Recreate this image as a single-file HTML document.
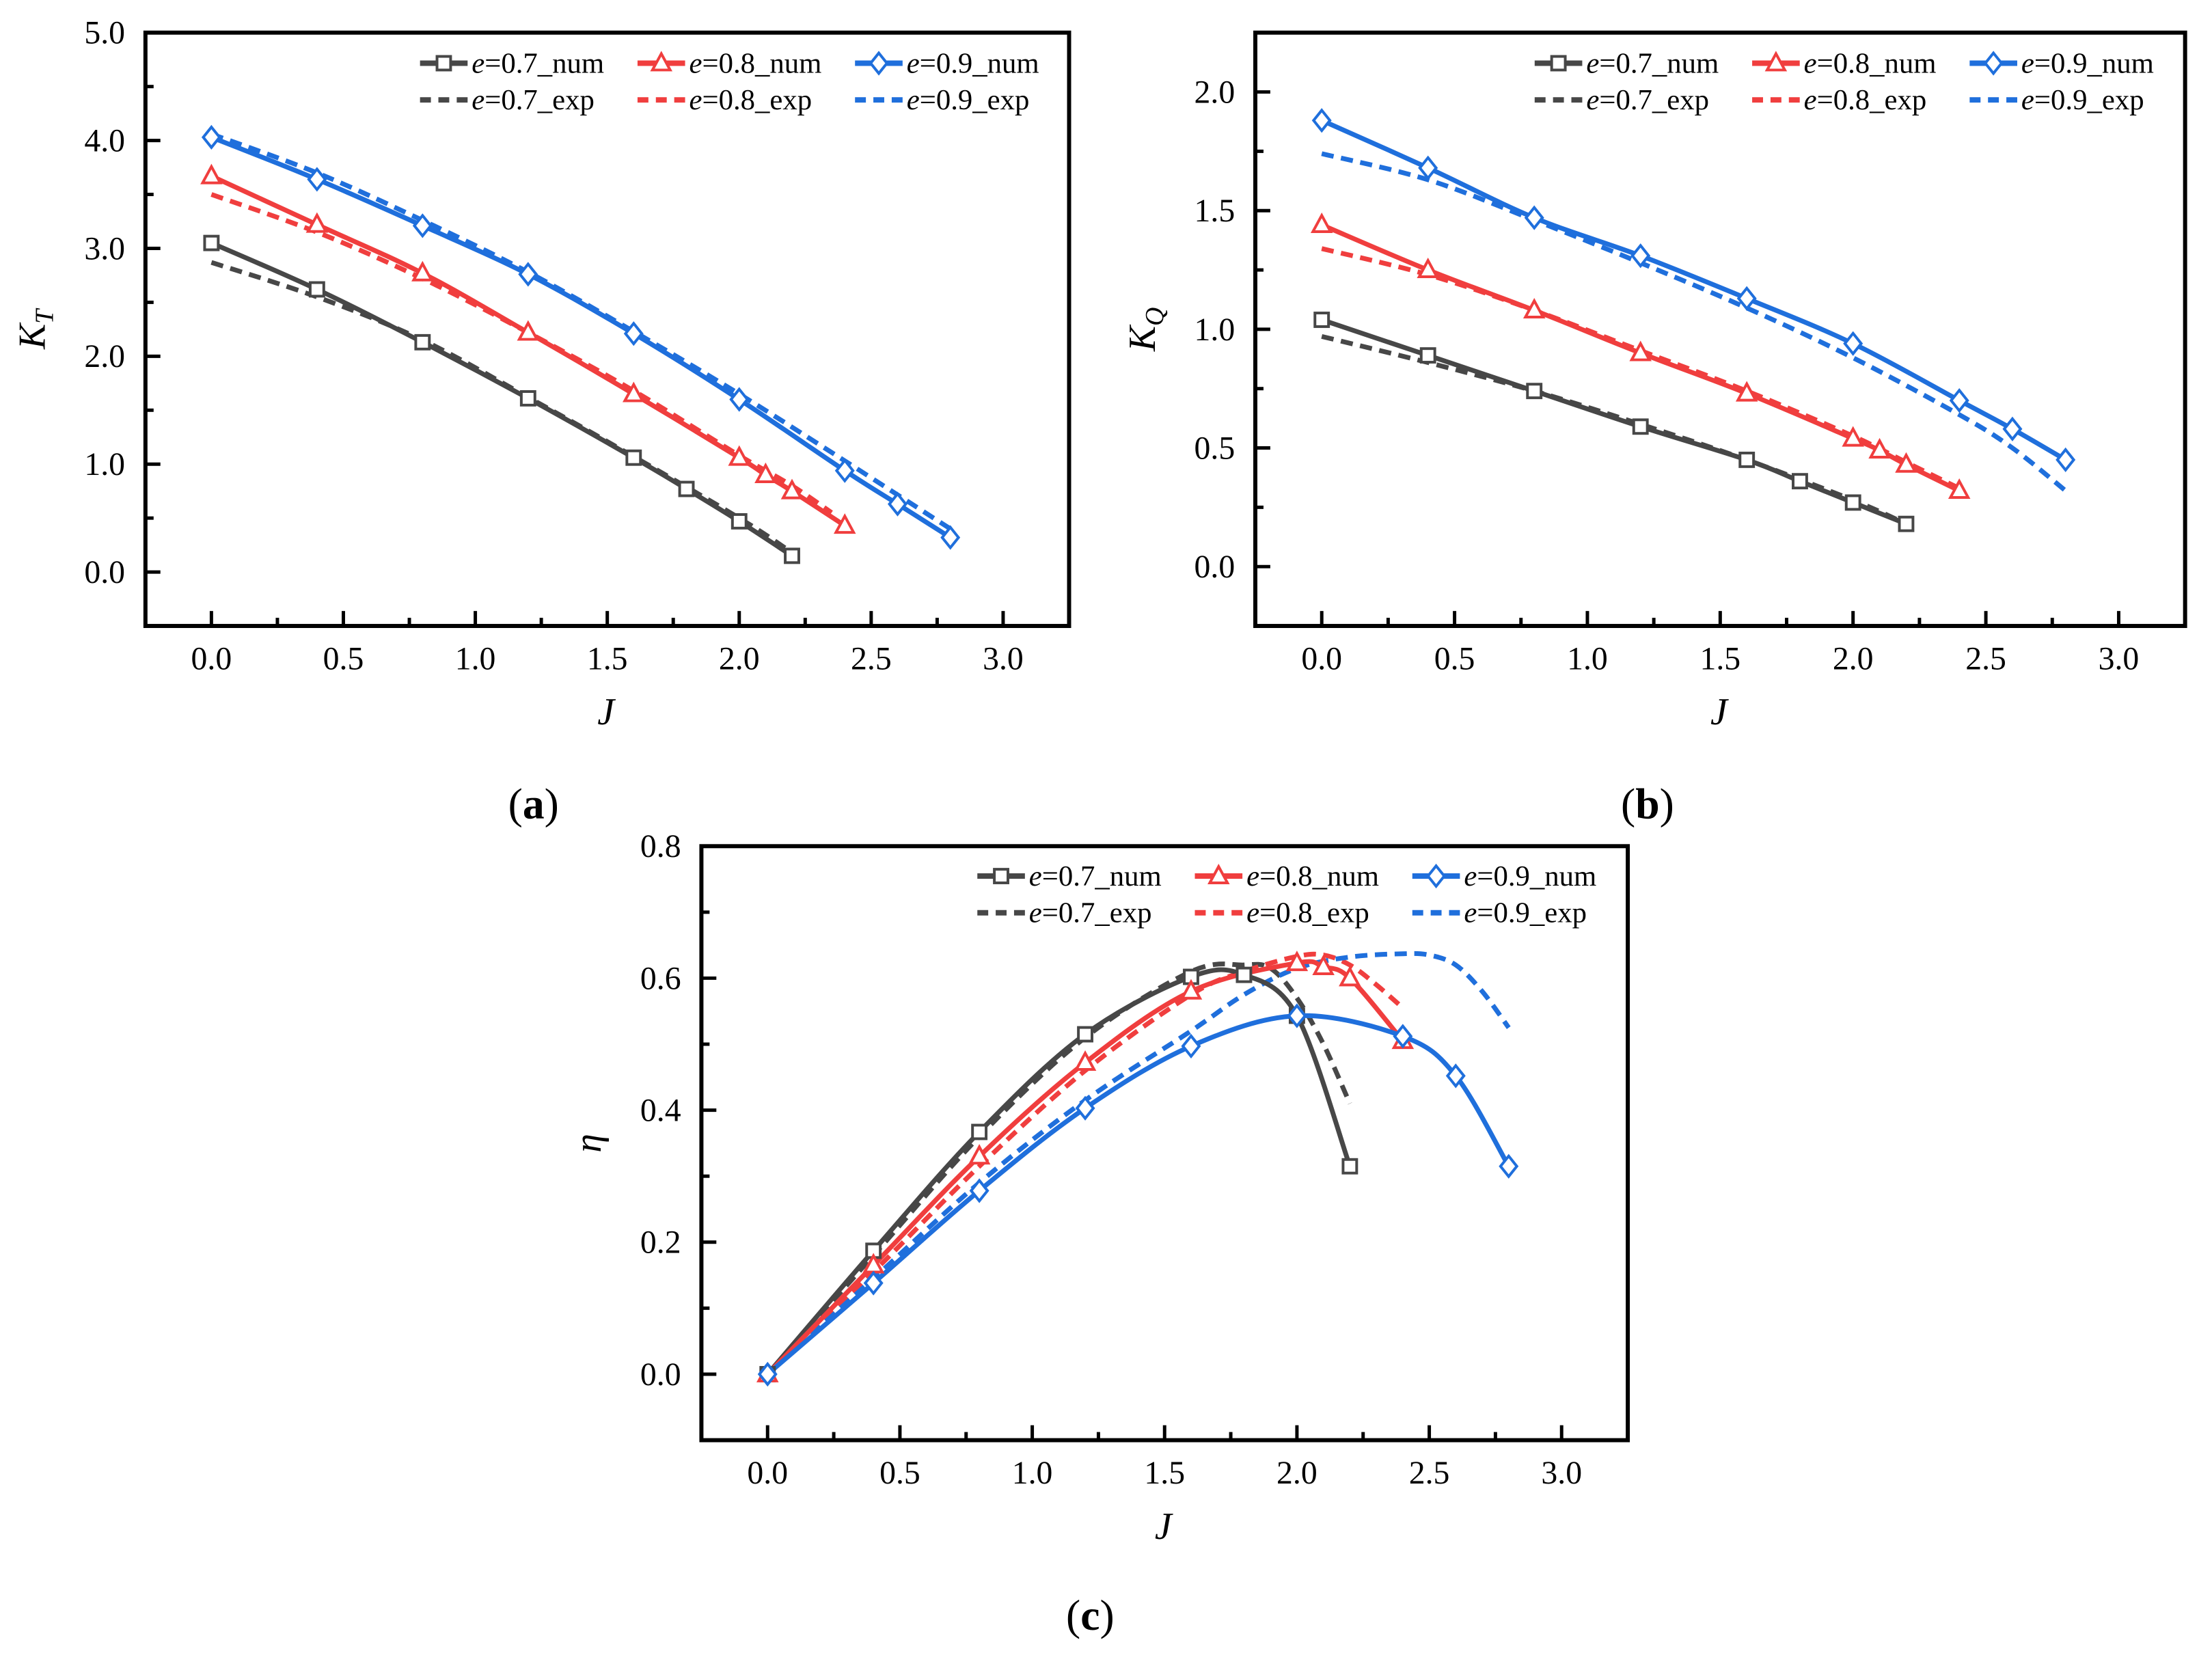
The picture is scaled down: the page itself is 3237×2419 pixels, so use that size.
<!DOCTYPE html>
<html><head><meta charset="utf-8"><style>
html,body{margin:0;padding:0;background:#fff;}
svg{display:block;}
text{font-family:"Liberation Serif",serif;}
</style></head><body>
<svg id="fig" width="3237" height="2419" viewBox="0 0 3237 2419" xmlns="http://www.w3.org/2000/svg"><g id="root" transform="scale(0.9946)"></g></svg>
<script>
// ---- data ----
const J7 = [0,0.4,0.8,1.2,1.6,1.8,2.0,2.2];
const J8 = [0,0.4,0.8,1.2,1.6,2.0,2.1,2.2,2.4];
const J9 = [0,0.4,0.8,1.2,1.6,2.0,2.4,2.6,2.8];
// (a) KT
const kt7num = [3.05,2.62,2.13,1.61,1.06,0.77,0.47,0.15];
const kt7expJ = [0,0.4,0.8,1.2,1.6,2.0,2.2];
const kt7exp = [2.87,2.55,2.15,1.62,1.07,0.50,0.18];
const kt8num = [3.67,3.22,2.77,2.22,1.65,1.06,0.90,0.75,0.43];
const kt8expJ = [0,0.4,0.8,1.2,1.6,2.0,2.2,2.35];
const kt8exp = [3.50,3.15,2.72,2.22,1.68,1.08,0.80,0.55];
const kt9num = [4.03,3.64,3.21,2.76,2.21,1.60,0.94,0.63,0.32];
const kt9expJ = [0,0.4,0.8,1.2,1.6,2.0,2.4,2.8];
const kt9exp = [4.06,3.70,3.26,2.78,2.23,1.65,1.03,0.40];
// (b) KQ
const kq7num = [1.04,0.89,0.74,0.59,0.45,0.36,0.27,0.18];
const kq7expJ = [0,0.4,0.8,1.2,1.6,2.0,2.2];
const kq7exp = [0.97,0.86,0.74,0.60,0.45,0.28,0.18];
const kq8num = [1.44,1.25,1.08,0.90,0.73,0.54,0.49,0.43,0.32];
const kq8expJ = [0,0.4,0.8,1.2,1.6,2.0,2.2,2.4];
const kq8exp = [1.34,1.23,1.08,0.91,0.74,0.55,0.44,0.33];
const kq9num = [1.88,1.68,1.47,1.31,1.13,0.94,0.70,0.58,0.45];
const kq9expJ = [0,0.4,0.8,1.2,1.6,2.0,2.4,2.6,2.8];
const kq9exp = [1.74,1.63,1.46,1.28,1.09,0.88,0.64,0.50,0.32];
// (c) eta
const eta7num = [0,0.187,0.367,0.515,0.602,0.605,0.543,0.315];
const eta7expJ = [0,0.4,0.8,1.2,1.6,1.8,1.9,2.0,2.1,2.2];
const eta7exp = [0,0.18,0.36,0.51,0.61,0.62,0.615,0.57,0.50,0.41];
const eta8num = [0,0.165,0.33,0.472,0.58,0.623,0.617,0.6,0.505];
const eta8expJ = [0,0.4,0.8,1.2,1.6,1.8,2.0,2.1,2.2,2.3,2.4];
const eta8exp = [0,0.155,0.315,0.46,0.575,0.61,0.633,0.635,0.62,0.59,0.555];
const eta9num = [0,0.138,0.278,0.403,0.497,0.543,0.512,0.452,0.315];
const eta9expJ = [0,0.4,0.8,1.2,1.6,1.8,2.0,2.2,2.4,2.5,2.6,2.7,2.8];
const eta9exp = [0,0.145,0.29,0.415,0.52,0.575,0.615,0.632,0.637,0.635,0.62,0.58,0.525];
const xTicks = [0,0.5,1.0,1.5,2.0,2.5,3.0];
const xTickLabels = ["0.0","0.5","1.0","1.5","2.0","2.5","3.0"];
const ktTicks = [0,1,2,3,4,5];
const ktTickLabels = ["0.0","1.0","2.0","3.0","4.0","5.0"];
const kqTicks = [0,0.5,1.0,1.5,2.0];
const kqTickLabels = ["0.0","0.5","1.0","1.5","2.0"];
const etaTicks = [0,0.2,0.4,0.6,0.8];
const etaTickLabels = ["0.0","0.2","0.4","0.6","0.8"];
const legendLabels = ["0.7_num","0.8_num","0.9_num","0.7_exp","0.8_exp","0.9_exp"];

const NS="http://www.w3.org/2000/svg";
const svg=document.getElementById('root');
const COL={g:"#474747",r:"#f03e3e",b:"#1f6fdc"};
function mk(tag,attrs,parent){const e=document.createElementNS(NS,tag);for(const k in attrs)e.setAttribute(k,attrs[k]);(parent||svg).appendChild(e);return e;}

function smoothPath(pts){
  let d="M"+pts[0][0].toFixed(1)+","+pts[0][1].toFixed(1);
  for(let i=0;i<pts.length-1;i++){
    const p0=pts[Math.max(0,i-1)],p1=pts[i],p2=pts[i+1],p3=pts[Math.min(pts.length-1,i+2)];
    const c1=[p1[0]+(p2[0]-p0[0])/6,p1[1]+(p2[1]-p0[1])/6];
    const c2=[p2[0]-(p3[0]-p1[0])/6,p2[1]-(p3[1]-p1[1])/6];
    d+=" C"+c1[0].toFixed(1)+","+c1[1].toFixed(1)+" "+c2[0].toFixed(1)+","+c2[1].toFixed(1)+" "+p2[0].toFixed(1)+","+p2[1].toFixed(1);
  }
  return d;
}
function marker(g,type,x,y,color){
  let e;
  if(type==="sq") e=mk('rect',{x:x-10,y:y-10,width:20,height:20,fill:"#fff",stroke:color,"stroke-width":4},g);
  else if(type==="tri") e=mk('polygon',{points:`${x},${y-14} ${x-13},${y+10} ${x+13},${y+10}`,fill:"#fff",stroke:color,"stroke-width":4},g);
  else e=mk('polygon',{points:`${x},${y-15} ${x+12},${y} ${x},${y+15} ${x-12},${y}`,fill:"#fff",stroke:color,"stroke-width":4},g);
  
  
}

function plot(cfg){
  const g=mk('g',{});
  
  
  const {L,R,T,B,xmin,xmax,ymin,ymax}=cfg;
  const X=v=>L+(v-xmin)/(xmax-xmin)*(R-L);
  const Y=v=>B-(v-ymin)/(ymax-ymin)*(B-T);
  cfg.series.forEach(s=>{
    const pts=s.x.map((v,i)=>[X(v),Y(s.y[i])]);
    const p=mk('path',{d:smoothPath(pts),fill:"none",stroke:s.c,"stroke-width":7,"stroke-dasharray":s.dash?"18,11":"none","stroke-linejoin":"round"},g);
    
    
  });
  cfg.series.forEach(s=>{ if(s.m) s.x.forEach((v,i)=>marker(g,s.m,X(v),Y(s.y[i]),s.c)); });
  const fr=mk('rect',{x:L,y:T,width:R-L,height:B-T,fill:"none",stroke:"#000","stroke-width":6},g);
  
  
  xTicks.forEach((v,i)=>{
    mk('line',{x1:X(v),x2:X(v),y1:B,y2:B-22,stroke:"#000","stroke-width":5},g);
    if(i<xTicks.length-1) mk('line',{x1:X(v+0.25),x2:X(v+0.25),y1:B,y2:B-12,stroke:"#000","stroke-width":5},g);
    const t=mk('text',{x:X(v),y:B+64,"font-size":48,"text-anchor":"middle"},g);
    t.textContent=xTickLabels[i];
    
    
  });
  cfg.yt.forEach((v,i)=>{
    mk('line',{x1:L,x2:L+22,y1:Y(v),y2:Y(v),stroke:"#000","stroke-width":5},g);
    if(i<cfg.yt.length-1){const m=(v+cfg.yt[i+1])/2; mk('line',{x1:L,x2:L+12,y1:Y(m),y2:Y(m),stroke:"#000","stroke-width":5},g);}
    const t=mk('text',{x:L-30,y:Y(v)+16,"font-size":48,"text-anchor":"end"},g);
    t.textContent=cfg.ytl[i];
    
    
  });
  const xt=mk('text',{x:(L+R)/2-2,y:B+145,"font-size":56,"font-style":"italic","text-anchor":"middle"},g);
  xt.textContent="J";
  
  
  const yt=mk('text',{transform:`translate(${L-148},${(T+B)/2}) rotate(-90)`,"font-size":56,"font-style":"italic","text-anchor":"middle"},g);
  yt.innerHTML=cfg.ytitle;
  
  
  const cols=[COL.g,COL.r,COL.b], mks=["sq","tri","dia"];
  for(let k=0;k<6;k++){
    const c=k%3,r=Math.floor(k/3);
    const lx=cfg.lx+c*320, ly=cfg.ly+r*54;
    const lg=mk('g',{},g);
    
    
    mk('line',{x1:lx,x2:lx+70,y1:ly,y2:ly,stroke:cols[c],"stroke-width":8,"stroke-dasharray":r?"16,11":"none"},lg);
    if(!r) marker(lg,mks[c],lx+35,ly,cols[c]);
    const t=mk('text',{x:lx+76,y:ly+14,"font-size":43},lg);
    t.innerHTML='<tspan font-style="italic">e</tspan>='+legendLabels[k];
  }
  const pl=mk('text',{x:cfg.px,y:cfg.py,"font-size":64,"text-anchor":"middle"},svg);
  pl.innerHTML='(<tspan font-weight="bold">'+cfg.pl+'</tspan>)';
  
  
}
function S(id,x,y,c,dash,m){return {id,x,y,c,dash,m};}

plot({name:'kt-chart',L:214,R:1573,T:48,B:921,xmin:-0.25,xmax:3.25,ymin:-0.5,ymax:5.0,yt:ktTicks,ytl:ktTickLabels,
 ytitle:'K<tspan font-size="38" dy="12">T</tspan>',lx:618,ly:93,px:785,py:1204,pl:'a',
 series:[S('kt-e07-exp',kt7expJ,kt7exp,COL.g,1),S('kt-e08-exp',kt8expJ,kt8exp,COL.r,1),S('kt-e09-exp',kt9expJ,kt9exp,COL.b,1),
  S('kt-e07-num',J7,kt7num,COL.g,0,'sq'),S('kt-e08-num',J8,kt8num,COL.r,0,'tri'),S('kt-e09-num',J9,kt9num,COL.b,0,'dia')]});
plot({name:'kq-chart',L:1847,R:3215,T:48,B:921,xmin:-0.25,xmax:3.25,ymin:-0.25,ymax:2.25,yt:kqTicks,ytl:kqTickLabels,
 ytitle:'K<tspan font-size="38" dy="12">Q</tspan>',lx:2258,ly:93,px:2424,py:1204,pl:'b',
 series:[S('kq-e07-exp',kq7expJ,kq7exp,COL.g,1),S('kq-e08-exp',kq8expJ,kq8exp,COL.r,1),S('kq-e09-exp',kq9expJ,kq9exp,COL.b,1),
  S('kq-e07-num',J7,kq7num,COL.g,0,'sq'),S('kq-e08-num',J8,kq8num,COL.r,0,'tri'),S('kq-e09-num',J9,kq9num,COL.b,0,'dia')]});
plot({name:'eta-chart',L:1032,R:2395,T:1245,B:2119,xmin:-0.25,xmax:3.25,ymin:-0.1,ymax:0.8,yt:etaTicks,ytl:etaTickLabels,
 ytitle:'η',lx:1438,ly:1289,px:1604,py:2398,pl:'c',
 series:[S('eta-e07-exp',eta7expJ,eta7exp,COL.g,1),S('eta-e08-exp',eta8expJ,eta8exp,COL.r,1),S('eta-e09-exp',eta9expJ,eta9exp,COL.b,1),
  S('eta-e07-num',J7,eta7num,COL.g,0,'sq'),S('eta-e08-num',J8,eta8num,COL.r,0,'tri'),S('eta-e09-num',J9,eta9num,COL.b,0,'dia')]});
</script>
</body></html>
